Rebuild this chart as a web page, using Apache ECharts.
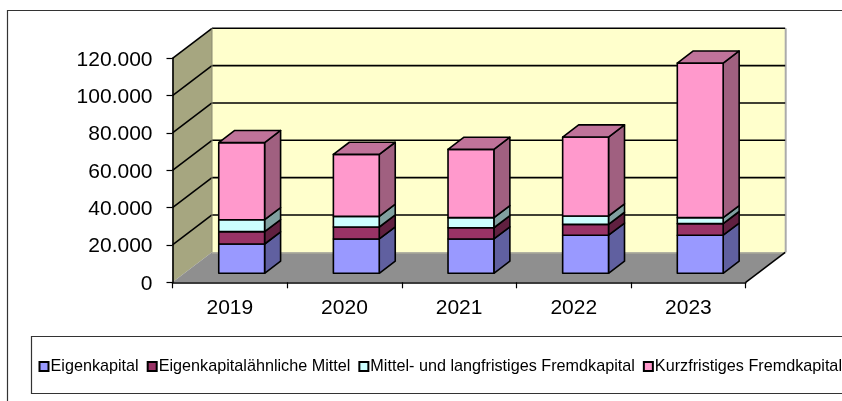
<!DOCTYPE html>
<html><head><meta charset="utf-8">
<style>html,body{margin:0;padding:0;background:#fff}#c{width:842px;height:401px}</style>
<script src="https://cdn.jsdelivr.net/npm/echarts@6/dist/echarts.min.js"></script>
</head><body><div id="c"></div>
<script>
const years = ['2019','2020','2021','2022','2023'];
const seriesNames = ['Eigenkapital','Eigenkapitalähnliche Mittel','Mittel- und langfristiges Fremdkapital','Kurzfristiges Fremdkapital'];
const eigenkapital = [15700,18400,18400,20400,20400];
const aehnlicheMittel = [6600,6400,6000,5800,6200];
const langfristig = [6400,5700,5400,4500,3200];
const kurzfristig = [41300,33200,36600,42300,82800];
const valueTicks = [0,20000,40000,60000,80000,100000,120000];
const frontColors = ['#9999FF','#993366','#CCFFFF','#FF99CC'];
const sideColors = ['#6060A0','#602040','#80A0A0','#A06080'];
const topColor = '#C0739A';
const depthX = 39.5, depthY = -30;
const barOffset = 0.3, barDepth = 0.405, barWidth = 0.4;

const chart = echarts.init(document.getElementById('c'), null, {renderer:'canvas'});
const ink = {stroke:'#000', lineWidth:1.6, lineJoin:'round'};
const poly = (pts, fill, stroke) => ({type:'polygon', shape:{points:pts}, style:Object.assign({fill}, stroke===false?{stroke:null,lineWidth:0}:ink)});
const line = (a,b,w,c) => ({type:'line', shape:{x1:a[0],y1:a[1],x2:b[0],y2:b[1]}, style:{stroke:c||'#000',lineWidth:w||1.6}});

function renderRoom(params, api){
  const cs = params.coordSys;
  const L = cs.x, R = cs.x+cs.width;
  const yOf = v => api.coord([0,v])[1];
  const y0 = yOf(0), yT = yOf(120000);
  const kids = [];
  kids.push(poly([[L+depthX,yT+depthY],[R+depthX,yT+depthY],[R+depthX,y0+depthY],[L+depthX,y0+depthY]],'#FFFFCC',false));
  kids.push(poly([[L,y0],[L+depthX,y0+depthY],[L+depthX,yT+depthY],[L,yT]],'#A6A680',false));
  kids.push(poly([[L,y0],[R,y0],[R+depthX,y0+depthY],[L+depthX,y0+depthY]],'#8F8F8F',false));
  kids.push(line([R+depthX+0.5,yT+depthY],[R+depthX+0.5,y0+depthY],2,'#ABABAB'));
  kids.push(line([L+depthX,y0+depthY+0.5],[R+depthX,y0+depthY+0.5],1.2,'#B5B5A0'));
  valueTicks.forEach(v=>{
    const y = yOf(v);
    if(v>0){
      kids.push(line([L+depthX,y+depthY],[R+depthX,y+depthY],1.6));
      kids.push(line([L,y],[L+depthX,y+depthY],1.6));
    }
  });
  kids.push(line([L+depthX,yT+depthY],[L+depthX,y0+depthY],1,'#8a8a70'));
  kids.push(line([R,y0],[R+depthX,y0+depthY],1.6));
  return {type:'group', children:kids};
}

function makeRender(si){
  return function(params, api){
    const idx = api.value(0), base = api.value(1), top = api.value(2);
    const band = api.size([1,0])[0];
    const dx = depthX*barOffset, dy = depthY*barOffset;
    const sx = depthX*barDepth, sy = depthY*barDepth;
    const cx = api.coord([idx,0])[0] + dx;
    const w = band*barWidth;
    const l = cx-w/2, r = cx+w/2;
    const yb = api.coord([idx,base])[1]+dy, yt = api.coord([idx,top])[1]+dy;
    const kids = [
      poly([[r,yb],[r+sx,yb+sy],[r+sx,yt+sy],[r,yt]], sideColors[si]),
      poly([[l,yb],[r,yb],[r,yt],[l,yt]], frontColors[si])
    ];
    if(si===seriesNames.length-1) kids.push(poly([[l,yt],[r,yt],[r+sx,yt+sy],[l+sx,yt+sy]], topColor));
    return {type:'group', children:kids};
  };
}

const stacks = [eigenkapital, aehnlicheMittel, langfristig, kurzfristig];
const running = years.map(()=>0);
const barSeries = seriesNames.map((name,si)=>{
  const data = years.map((y,i)=>{
    const from = running[i]; running[i] += stacks[si][i];
    return [i, from, running[i]];
  });
  return {
    type:'custom', name, data, z:3+si, clip:false, silent:true,
    encode:{x:0,y:[1,2]},
    renderItem:makeRender(si),
    itemStyle:{color:frontColors[si], borderColor:'#000', borderWidth:2}
  };
});

chart.setOption({
  animation:false,
  backgroundColor:'#fff',
  textStyle:{fontFamily:'"Liberation Sans",Arial,sans-serif'},
  grid:{left:172.5, top:58.3, width:573.2, height:224},
  xAxis:{type:'category', data:years, boundaryGap:true,
    axisLine:{onZero:false, lineStyle:{color:'#000',width:1.6}},
    axisTick:{show:true, alignWithLabel:false, length:6, interval:0, lineStyle:{color:'#000',width:1.2}},
    axisLabel:{color:'#000', fontSize:21, margin:15, fontFamily:'"Liberation Sans"', interval:0},
    splitLine:{show:false}, z:10},
  yAxis:{type:'value', min:0, max:120000, interval:20000,
    axisLine:{show:true, lineStyle:{color:'#000',width:1.6}},
    axisTick:{show:true, length:6, lineStyle:{color:'#000',width:1.2}},
    axisLabel:{color:'#000', fontSize:21, margin:20, verticalAlign:'top', padding:[-9,0,0,0], fontFamily:'"Liberation Sans"',
      formatter:v=>String(v).replace(/\B(?=(\d{3})+$)/g,'.')},
    splitLine:{show:false}, z:10},
  legend:{show:true, left:38.5, top:358.5, width:1400, orient:'horizontal', padding:0,
    data:seriesNames, itemWidth:9, itemHeight:9, itemGap:8, icon:'rect',
    selectedMode:false,
    itemStyle:{borderColor:'#000', borderWidth:2},
    textStyle:{color:'#000', fontSize:16.2, fontFamily:'"Liberation Sans"', padding:[0,0,0,-3]}
  },
  graphic:[
    {type:'rect', silent:true, z:-1, shape:{x:7.5,y:10.5,width:900,height:500}, style:{fill:'#fff',stroke:'#333',lineWidth:1.2}},
    {type:'rect', silent:true, z:-1, shape:{x:31.5,y:336.5,width:900,height:57}, style:{fill:'#fff',stroke:'#333',lineWidth:1.2}}
  ],
  series:[{type:'custom', name:'room', data:[[0,0]], z:1, clip:false, silent:true, renderItem:renderRoom, encode:{x:0,y:1}}].concat(barSeries)
});
</script></body></html>
